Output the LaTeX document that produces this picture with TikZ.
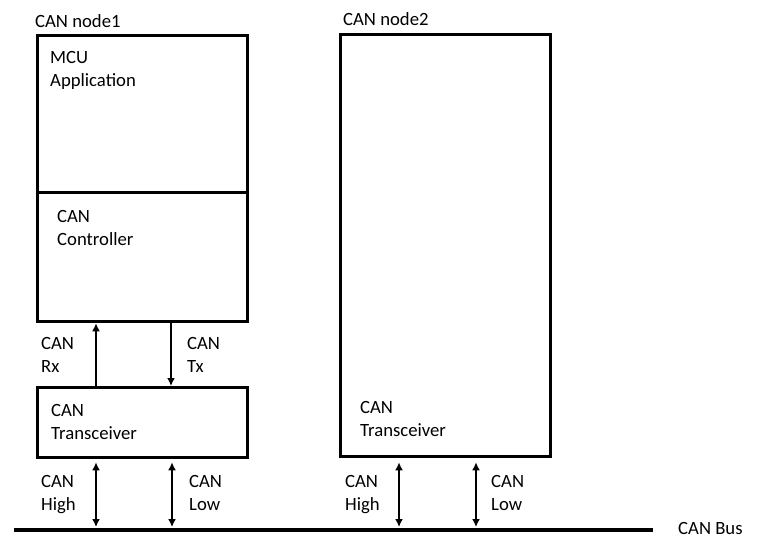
\documentclass[tikz,border=0pt]{standalone}
\usepackage{fontspec}
\setmainfont{Carlito}
\usetikzlibrary{arrows.meta}
\begin{document}
\begin{tikzpicture}[x=1pt,y=-1pt,
  box/.style={draw,line width=3.3pt,inner sep=0pt},
  lbl/.style={anchor=base west,inner sep=0pt,align=left,font=\fontsize{18.7}{23}\selectfont},
  sig/.style={line width=2.8pt,-{Latex[length=8pt,width=8pt]}},
  bidir/.style={line width=2.8pt,{Latex[length=8pt,width=8pt]}-{Latex[length=8pt,width=8pt]}}]
\useasboundingbox (0,0) rectangle (763,550);
% boxes
\node[box,minimum width=210pt,minimum height=157pt,anchor=north west] (mcu) at (36,34) {};
\node[box,minimum width=210pt,minimum height=129pt,anchor=north west] (ctrl) at (36,191) {};
\node[box,minimum width=210pt,minimum height=70pt,anchor=north west] (tr1) at (36,386) {};
\node[box,minimum width=210pt,minimum height=422pt,anchor=north west] (n2) at (339,33) {};
% bus
\coordinate (busL) at (14,530);
\coordinate (busR) at (653,530);
\draw[line width=4pt] (busL) -- (busR);
% coordinates for connector ends
\coordinate (b1) at (96,527);
\coordinate (b2) at (172,527);
\coordinate (b3) at (399,527);
\coordinate (b4) at (476,527);
% connectors
\draw[sig] (tr1.north west -| 96,0) -- (ctrl.south west -| 96,0);
\draw[sig] (ctrl.south west -| 171,0) -- (tr1.north west -| 171,0);
\draw[bidir] (tr1.south west -| 96,0) ++(0,3) -- (b1);
\draw[bidir] (tr1.south west -| 172,0) ++(0,3) -- (b2);
\draw[bidir] (n2.south west -| 399,0) ++(0,4) -- (b3);
\draw[bidir] (n2.south west -| 476,0) ++(0,4) -- (b4);
% labels
\node[lbl] (t1) at (35,27) {CAN node1};
\node[lbl] (t2) at (343,25) {CAN node2};
\node[lbl] (t3) at (50,86) {MCU\\Application};
\node[lbl] (t4) at (57,245) {CAN\\Controller};
\node[lbl] (t5) at (41,372) {CAN\\Rx};
\node[lbl] (t6) at (187,372) {CAN\\Tx};
\node[lbl] (t7) at (51,439) {CAN\\Transceiver};
\node[lbl] (t8) at (360,436) {CAN\\Transceiver};
\node[lbl] (t9) at (41,510) {CAN\\High};
\node[lbl] (t10) at (189,510) {CAN\\Low};
\node[lbl] (t11) at (345,510) {CAN\\High};
\node[lbl] (t12) at (491,510) {CAN\\Low};
\node[lbl] (t13) at (678,534) {CAN Bus};
\end{tikzpicture}
\end{document}
